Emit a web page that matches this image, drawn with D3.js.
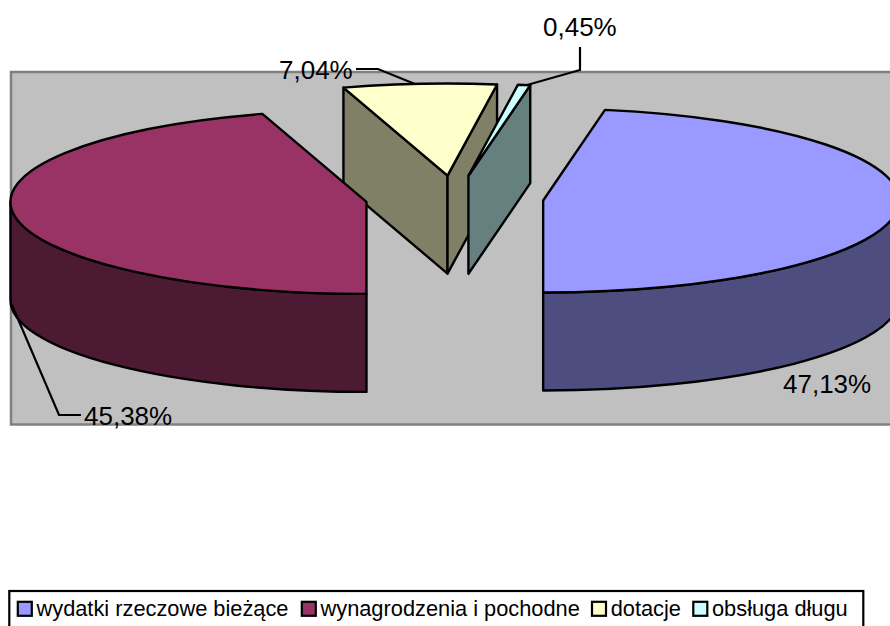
<!DOCTYPE html>
<html>
<head>
<meta charset="utf-8">
<script src="https://cdn.jsdelivr.net/npm/d3@7"></script>
<style>
  html, body { margin: 0; padding: 0; background: #fff; overflow: hidden; }
  svg { display: block; }
  text { font-family: "Liberation Sans", Arial, sans-serif; fill: #000; }
</style>
</head>
<body>
<svg id="chart"></svg>
<script>
// data
var categories = ['wydatki rzeczowe bieżące', 'wynagrodzenia i pochodne', 'dotacje', 'obsługa długu']
var shares = [47.13, 45.38, 7.04, 0.45]
var colors = ['#9999FF', '#993366', '#FFFFCC', '#CCFFFF']

var svgWidth = 890, svgHeight = 626

// pie geometry, 3d look comes from squashing the circle and pulling it down
var cx = 454.5, cy = 198.5, rx = 356, ry = 92, depth = 98, explode = 0.25
var firstAngle = 10 * Math.PI / 180

var svg = d3.select('#chart')
    .attr('width', svgWidth)
    .attr('height', svgHeight)

var color = d3.scaleOrdinal().domain(categories).range(colors)

// side walls are the slice colour at half brightness
function shade(name) {
    var c = d3.rgb(color(name))
    return d3.rgb(c.r / 2, c.g / 2, c.b / 2).formatHex()
}

var pie = d3.pie()
    .sort(null)
    .startAngle(firstAngle)
    .endAngle(firstAngle + 2 * Math.PI)

// the original snaps slice edges to whole degrees
function snap(angle) {
    var deg = Math.PI / 180
    return Math.round(angle / deg) * deg
}

var slices = pie(shares).map(function(s, i) {
    var a = snap(s.startAngle), b = snap(s.endAngle)
    var mid = (a + b) / 2
    return {
        name: categories[i],
        a: a,
        b: b,
        ox: cx + rx * explode * Math.sin(mid),
        oy: cy - ry * explode * Math.cos(mid)
    }
})

function pt(d, angle, drop) {
    return [d.ox + rx * Math.sin(angle), d.oy - ry * Math.cos(angle) + (drop || 0)]
}

function topPath(d) {
    var p0 = pt(d, d.a), p1 = pt(d, d.b)
    var large = d.b - d.a > Math.PI ? 1 : 0
    return 'M' + d.ox + ',' + d.oy + 'L' + p0 + 'A' + rx + ',' + ry + ' 0 ' + large + ' 1 ' + p1 + 'Z'
}

// flat wall along a cut edge of the slice
function cutPath(d, angle) {
    return 'M' + d.ox + ',' + d.oy + 'L' + pt(d, angle) + 'L' + pt(d, angle, depth)
        + 'L' + d.ox + ',' + (d.oy + depth) + 'Z'
}

// curved front wall, only the part between 90 and 270 degrees faces us
function rimPath(d) {
    var from = Math.max(d.a, Math.PI / 2), to = Math.min(d.b, 3 * Math.PI / 2)
    if (from >= to) return null
    return 'M' + pt(d, from) + 'A' + rx + ',' + ry + ' 0 0 1 ' + pt(d, to)
        + 'L' + pt(d, to, depth)
        + 'A' + rx + ',' + ry + ' 0 0 0 ' + pt(d, from, depth) + 'Z'
}

// Plot area ======>
svg.append('rect')
    .attr('x', 11)
    .attr('y', 72)
    .attr('width', 900)
    .attr('height', 352.5)
    .attr('fill', '#C0C0C0')
    .attr('stroke', '#808080')
    .attr('stroke-width', 2.5)

// back slices first so the big ones cover them
var drawOrder = [2, 3, 1, 0]

var groups = svg.selectAll('g.slice')
    .data(drawOrder.map(function(i) { return slices[i] }))
    .enter()
    .append('g')
    .attr('class', 'slice')
    .attr('stroke', '#000')
    .attr('stroke-width', 2.4)
    .attr('stroke-linejoin', 'round')

groups.each(function(d) {
    var g = d3.select(this)
    if (Math.sin(d.a) < -1e-6) g.append('path').attr('d', cutPath(d, d.a)).attr('fill', shade(d.name))
    if (Math.sin(d.b) > 1e-6) g.append('path').attr('d', cutPath(d, d.b)).attr('fill', shade(d.name))
    var rim = rimPath(d)
    if (rim) g.append('path').attr('d', rim).attr('fill', shade(d.name))
    g.append('path').attr('d', topPath(d)).attr('fill', color(d.name))
})

// Labels and leader lines ======>
var labelSpots = [
    { x: 783, y: 393, line: null },
    { x: 84, y: 425, line: [[12, 305], [59, 415], [81, 415]] },
    { x: 279, y: 79, line: [[356, 69], [378, 69], [415, 84]] },
    { x: 543, y: 36, line: [[580, 47], [580, 70], [527, 85]] }
]

svg.selectAll('text.pct')
    .data(shares)
    .enter()
    .append('text')
    .attr('class', 'pct')
    .attr('x', function(d, i) { return labelSpots[i].x })
    .attr('y', function(d, i) { return labelSpots[i].y })
    .attr('font-size', 26)
    .text(function(d) { return d.toFixed(2).replace('.', ',') + '%' })

svg.selectAll('path.leader')
    .data(labelSpots.filter(function(d) { return d.line }))
    .enter()
    .append('path')
    .attr('class', 'leader')
    .attr('d', function(d) { return d3.line()(d.line) })
    .attr('fill', 'none')
    .attr('stroke', '#000')
    .attr('stroke-width', 2.2)

// Legend ======> box runs off the bottom of the picture, no lower border
var legendX = [17.8, 301.8, 592, 693.3]

svg.append('rect')
    .attr('x', 9.3)
    .attr('y', 591)
    .attr('width', 854)
    .attr('height', 45)
    .attr('fill', '#fff')
    .attr('stroke', '#000')
    .attr('stroke-width', 2.2)

var legend = svg.selectAll('g.legend')
    .data(categories)
    .enter()
    .append('g')
    .attr('class', 'legend')
    .attr('transform', function(d, i) { return 'translate(' + legendX[i] + ',601.8)' })

legend.append('rect')
    .attr('width', 14)
    .attr('height', 14)
    .attr('fill', function(d) { return color(d) })
    .attr('stroke', '#000')
    .attr('stroke-width', 2.2)

legend.append('text')
    .attr('x', 18.7)
    .attr('y', 14.2)
    .attr('font-size', 21.8)
    .text(function(d) { return d })
</script>
</body>
</html>
